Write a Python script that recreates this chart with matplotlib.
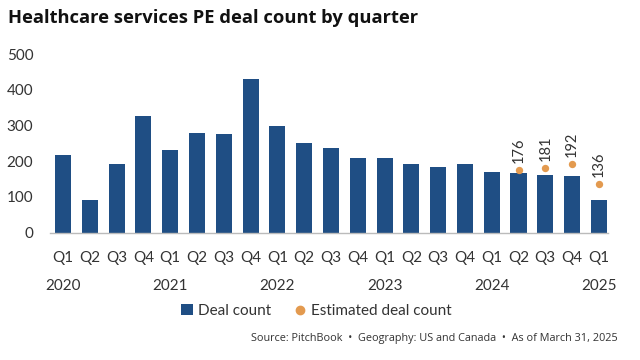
# healthcare PE deal count by quarter — bar + estimate dots
import numpy as np, matplotlib as mpl
mpl.use("Agg"); import matplotlib.pyplot as plt
from matplotlib.lines import Line2D
from matplotlib.patches import Patch

# ============================== DATA ==============================
QUARTERS=["Q1","Q2","Q3","Q4"]*5+["Q1"]
YEARS=["2020","2021","2022","2023","2024","2025"]
DEALS=[217,92,193,326, 231,278,275,431, 300,252,238,208,
       208,193,184,193, 170,167,162,160, 92]
EST_IDX=[17,18,19,20]
EST_VALS=[176,181,192,136]
# ==================================================================

BAR="#1f4e84"; DOT="#e39a4f"; TXT="#333333"
NARROW=["Liberation Sans Narrow","Lato","DejaVu Sans"]
plt.rcParams.update({"font.family":NARROW,"font.size":11})

fig=plt.figure(figsize=(6.4,3.6),dpi=100)
ax=fig.add_axes([0.078,0.3536,0.872,0.496])
x=np.arange(len(DEALS))
ax.bar(x,DEALS,width=0.6,color=BAR,zorder=2)
ax.scatter(EST_IDX,EST_VALS,s=28,color=DOT,zorder=3,linewidths=0)
for i,v in zip(EST_IDX,EST_VALS):
    ax.annotate(str(v),(i,v),xytext=(0,5),textcoords="offset points",
                rotation=90,ha="center",va="bottom",fontsize=10.5,color=TXT)

ax.set_xlim(-0.49,20.34); ax.set_ylim(0,500)
ax.set_yticks(range(0,501,100))
ax.set_xticks(x); ax.set_xticklabels(QUARTERS)
ax.tick_params(length=0,colors=TXT,labelsize=11)
ax.tick_params(axis="x",pad=13); ax.tick_params(axis="y",pad=12)
for s in ["top","right","left"]: ax.spines[s].set_visible(False)
ax.spines["bottom"].set_color("#bbbbbb"); ax.spines["bottom"].set_linewidth(1)

# year labels under each Q1
for k,yr in enumerate(YEARS):
    ax.annotate(yr,(k*4,0),xycoords=("data","axes fraction"),xytext=(0,-33),
                textcoords="offset points",ha="center",va="top",fontsize=11,color=TXT)

fig.text(8/640,1-18/360,"Healthcare services PE deal count by quarter",
         fontsize=13.2,fontweight="bold",family=["Open Sans","DejaVu Sans"],
         va="center",ha="left",color="#111111")

handles=[Patch(facecolor=BAR,edgecolor="none",label="Deal count"),
         Line2D([],[],marker="o",ls="none",color=DOT,markersize=6,label="Estimated deal count")]
fig.legend(handles=handles,loc="center",bbox_to_anchor=(316/640,1-311/360),ncol=2,
           frameon=False,fontsize=11,handlelength=0.8,handletextpad=0.3,columnspacing=1.5,
           labelcolor=TXT)

fig.text(618/640,1-339/360,"Source: PitchBook  \u2022  Geography: US and Canada  \u2022  As of March 31, 2025",
         fontsize=7.8,family=["Open Sans","DejaVu Sans"],ha="right",va="center",color=TXT)

fig.savefig("out.png",dpi=100)
